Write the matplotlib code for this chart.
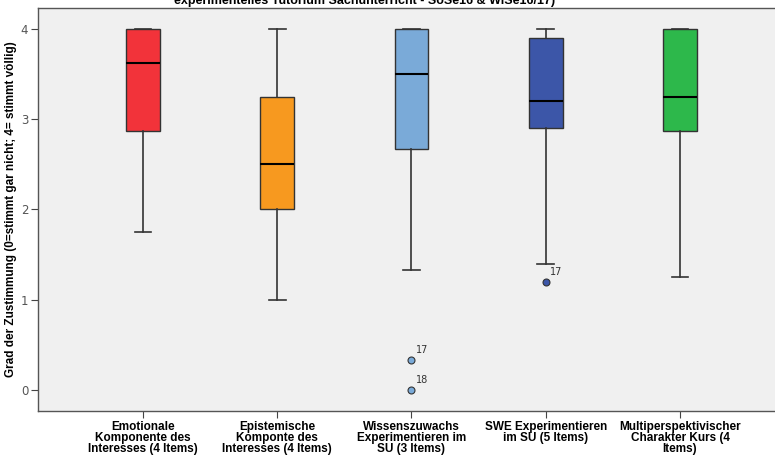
import numpy as np
import matplotlib.pyplot as plt

labels = ["Emotionale\nKomponente des\nInteresses (4 Items)",
          "Epistemische\nKomponte des\nInteresses (4 Items)",
          "Wissenszuwachs\nExperimentieren im\nSU (3 Items)",
          "SWE Experimentieren\nim SU (5 Items)",
          "Multiperspektivischer\nCharakter Kurs (4\nItems)"]
whislo = [1.75, 1.0, 1.333, 1.4, 1.25]
q1 = [2.875, 2.0, 2.667, 2.9, 2.875]
med = [3.625, 2.5, 3.5, 3.2, 3.25]
q3 = [4.0, 3.25, 4.0, 3.9, 4.0]
whishi = [4.0, 4.0, 4.0, 4.0, 4.0]
outliers = [[], [], [0.333, 0.0], [1.2], []]
outlier_ids = [[], [], ["17", "18"], ["17"], []]
colors = ["#f2333a", "#f7991f", "#7aaad8", "#3c56a8", "#2db84b"]

title_line = "experimentelles Tutorium Sachunterricht - SoSe16 & WiSe16/17)"
ylabel = "Grad der Zustimmung (0=stimmt gar nicht; 4= stimmt völlig)"

narrow = ["Liberation Sans Narrow", "Liberation Sans", "DejaVu Sans"]

fig = plt.figure(figsize=(7.75, 4.57), dpi=100)
ax = fig.add_axes([38/775, 46/457, 762/775, 403/457])
ax.set_facecolor("#f0f0f0")

pos = np.arange(1, len(labels) + 1)
stats = []
for i in range(len(labels)):
    stats.append(dict(whislo=whislo[i], q1=q1[i], med=med[i], q3=q3[i],
                      whishi=whishi[i], fliers=[]))
bp = ax.bxp(stats, positions=pos, widths=0.253, patch_artist=True,
            capwidths=0.125,
            boxprops=dict(edgecolor="#333333", linewidth=1),
            medianprops=dict(color="black", linewidth=1.5),
            whiskerprops=dict(color="#333333", linewidth=1.2),
            capprops=dict(color="#333333", linewidth=1.2))
for patch, c in zip(bp["boxes"], colors):
    patch.set_facecolor(c)

for i in range(len(labels)):
    for v, name in zip(outliers[i], outlier_ids[i]):
        ax.plot(pos[i], v, "o", ms=5, mfc=colors[i], mec="#333333", mew=0.8)
        ax.annotate(name, (pos[i], v), xytext=(3, 5), textcoords="offset points",
                    fontsize=7, color="#333333")

ax.set_xlim(0.218, 0.218 + 762/134.25)
ax.set_ylim(-0.233, 4.233)
ax.set_yticks([0, 1, 2, 3, 4])
ax.tick_params(axis="y", direction="out", length=5, pad=2, colors="#444444",
               labelsize=8.5, labelcolor="#555555")
ax.set_xticks(pos)
ax.set_xticklabels(labels, fontsize=8.5, fontweight="bold", family=narrow,
                   linespacing=0.88)
ax.tick_params(axis="x", direction="out", length=5, pad=2, colors="#444444",
               labelcolor="black")
for s in ax.spines.values():
    s.set_color("#555555")
    s.set_linewidth(1)

ax.set_ylabel(ylabel, fontsize=8.5, fontweight="bold", family=narrow)
ax.yaxis.set_label_coords(-0.028, 0.5)
fig.text(365/775, 1 - 4/457, title_line, ha="center", va="baseline", fontsize=9,
         fontweight="bold", family=narrow)

fig.savefig("out.png", dpi=100)
